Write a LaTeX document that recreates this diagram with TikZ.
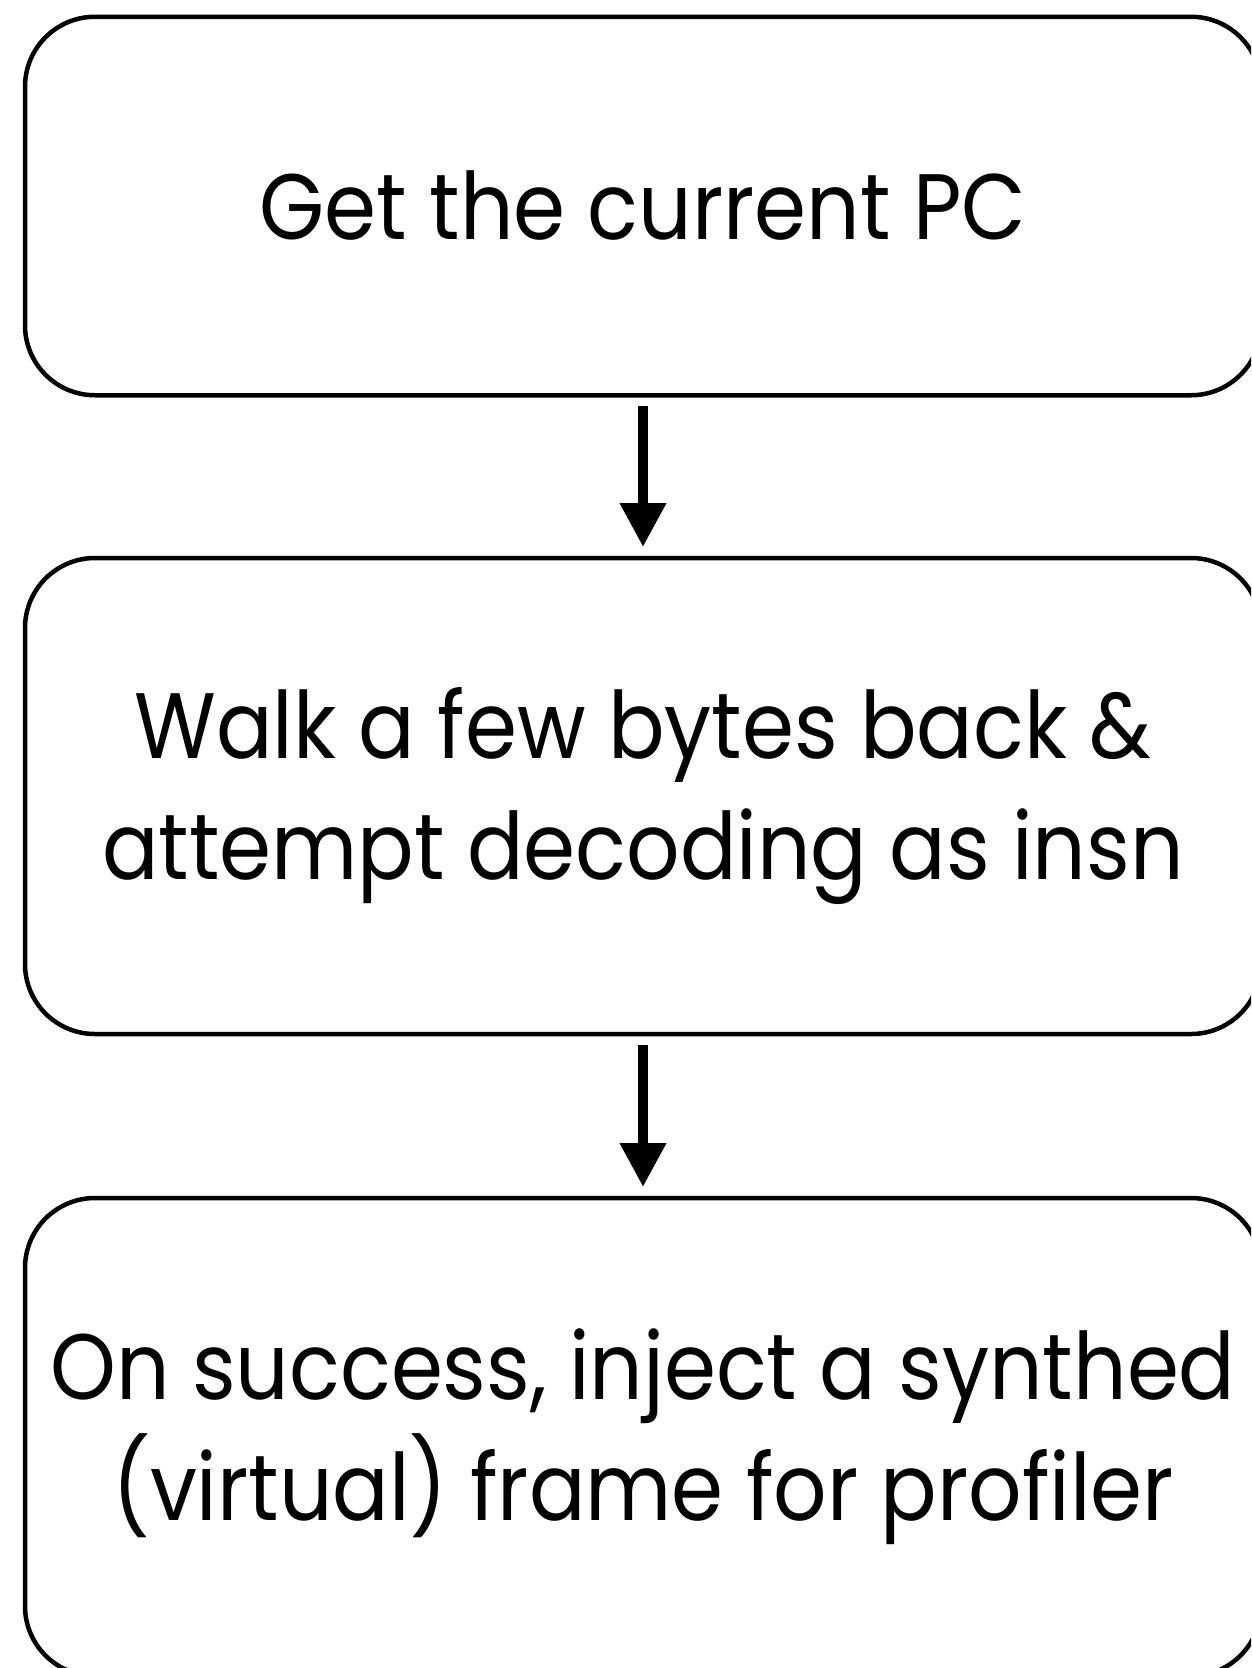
\documentclass[tikz,border=0pt]{standalone}
\usepackage{fontspec}
\setmainfont[FakeStretch=0.9]{Poppins}
\usetikzlibrary{arrows.meta}
\begin{document}
\begin{tikzpicture}[x=1pt,y=-1pt,
  box/.style={draw=black, line width=4.5pt, rounded corners=70pt, minimum width=1236pt,
    inner sep=0pt, outer sep=0pt, align=center, font=\fontsize{93}{121}\selectfont},
  arr/.style={line width=10pt, -{Triangle[width=44pt,length=44pt]}, shorten <=11pt, shorten >=11pt}]
\useasboundingbox (0,0) rectangle (1251,1668);
\clip (0,0) rectangle (1251,1668);
\node[box, minimum height=378.5pt] (b1) at (643,206) {Get the current PC};
\node[box, minimum height=476pt] (b2) at (643,796) {Walk a few bytes back \&\\attempt decoding as insn};
\node[box, minimum height=478pt] (b3) at (643,1437) {On success, inject a synthed\\(virtual) frame for profiler};
\draw[arr] (b1.south) -- (b2.north);
\draw[arr] (b2.south) -- (b3.north);
\end{tikzpicture}
\end{document}
